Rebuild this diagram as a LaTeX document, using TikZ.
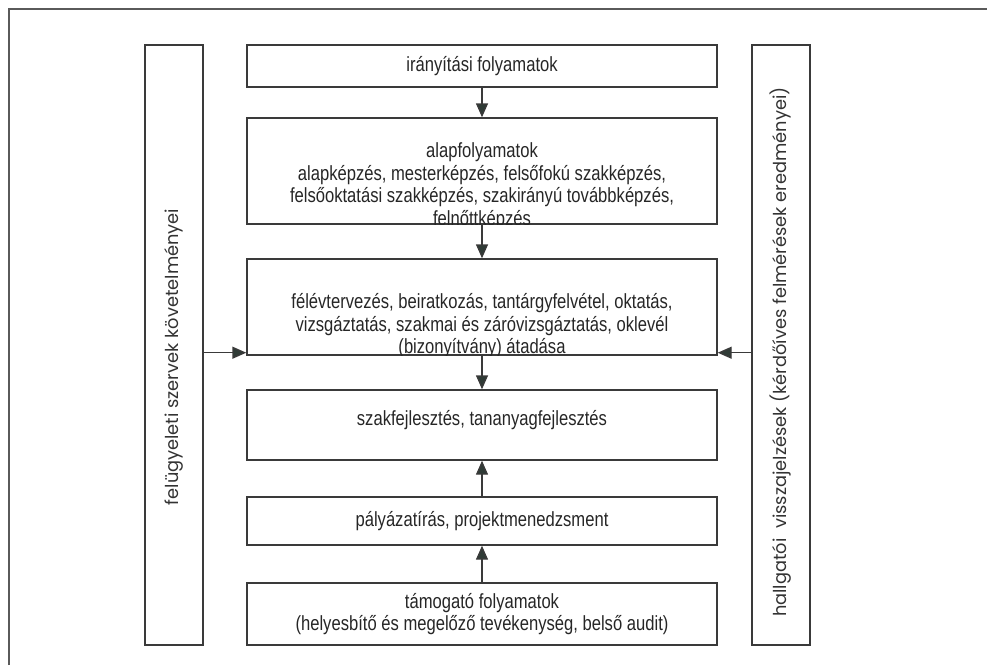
\documentclass[tikz,border=0pt]{standalone}
\usepackage{fontspec}
\setmainfont{Liberation Sans}[FakeStretch=0.81]
\newfontfamily\sidefont{Poppins}
\usetikzlibrary{
	arrows.meta,
	positioning
}
\definecolor{linegray}{HTML}{3A3A3A}
\definecolor{tipgray}{HTML}{2F3B36}
\definecolor{framegray}{HTML}{5A5A5A}

\tikzset{
	procbox/.style={draw=linegray, line width=1.4pt, minimum width=470pt, inner sep=0pt},
	sidebox/.style={draw=linegray, line width=1.4pt, minimum width=58pt, minimum height=600pt, inner sep=0pt},
	boxtext/.style={align=center, font=\fontsize{20.5}{22.5}\selectfont, text=black!85, inner sep=0pt},
	sidetext/.style={rotate=90, font=\sidefont\fontsize{17.8}{20}\selectfont, text=black!80, inner sep=0pt},
	flow/.style={draw=linegray, line width=1.4pt, -{Triangle[length=14pt, width=12pt, fill=tipgray]}}
}

\begin{document}
\begin{tikzpicture}[x=1pt, y=-1pt]
	\useasboundingbox (0,0) rectangle (987,665);
	\draw[framegray, line width=1.5pt] (9,665) -- (9,9) -- (987,9);

	% side columns
	\node[sidebox] (felugy) at (174,345) {};
	\node[sidetext] (felugytext) at (174,357) {felügyeleti szervek követelményei};
	\node[sidebox] (hallg) at (781,345) {};
	\node[sidetext] (hallgtext) at (781,352) {hallgatói\ \ visszajelzések (kérdőíves felmérések eredményei)};

	% process boxes
	\node[procbox, minimum height=42pt] (iranyitas) at (482,66) {};
	\node[boxtext] (iranyitastext) at (iranyitas.center) {irányítási folyamatok};

	\node[procbox, minimum height=106pt] (alap) at (482,171) {};
	\begin{scope}
		\clip (alap.south west) rectangle (alap.north east);
		\node[boxtext] (alaptext) at (482,186) {alapfolyamatok\\
			alapképzés, mesterképzés, felsőfokú szakképzés,\\
			felsőoktatási szakképzés, szakirányú továbbképzés,\\
			felnőttképzés};
	\end{scope}

	\node[procbox, minimum height=96pt] (oktatas) at (482,307) {};
	\begin{scope}
		\clip (oktatas.south west) rectangle (oktatas.north east);
		\node[boxtext] (oktatastext) at (482,326) {félévtervezés, beiratkozás, tantárgyfelvétel, oktatás,\\
			vizsgáztatás, szakmai és záróvizsgáztatás, oklevél\\
			(bizonyítvány) átadása};
	\end{scope}

	\node[procbox, minimum height=70pt] (szakfejl) at (482,425) {};
	\node[boxtext] (szakfejltext) at (482,420) {szakfejlesztés, tananyagfejlesztés};

	\node[procbox, minimum height=48pt] (palyazat) at (482,521) {};
	\node[boxtext] (palyazattext) at (palyazat.center) {pályázatírás, projektmenedzsment};

	\node[procbox, minimum height=62pt] (tamogato) at (482,614) {};
	\node[boxtext] (tamogatotext) at (tamogato.center) {támogató folyamatok\\
		(helyesbítő és megelőző tevékenység, belső audit)};

	% connectors
	\draw[flow] (iranyitas) -- (alap);
	\draw[flow] (alap) -- (oktatas);
	\draw[flow] (oktatas) -- (szakfejl);
	\draw[flow] (palyazat) -- (szakfejl);
	\draw[flow] (tamogato) -- (palyazat);

	\coordinate (leftin) at ([yshift=3pt]oktatas.south west);
	\coordinate (rightin) at ([yshift=3pt]oktatas.south east);
	\draw[flow] (felugy.east |- leftin) -- (leftin);
	\draw[flow] (hallg.west |- rightin) -- (rightin);

\end{tikzpicture}
\end{document}
